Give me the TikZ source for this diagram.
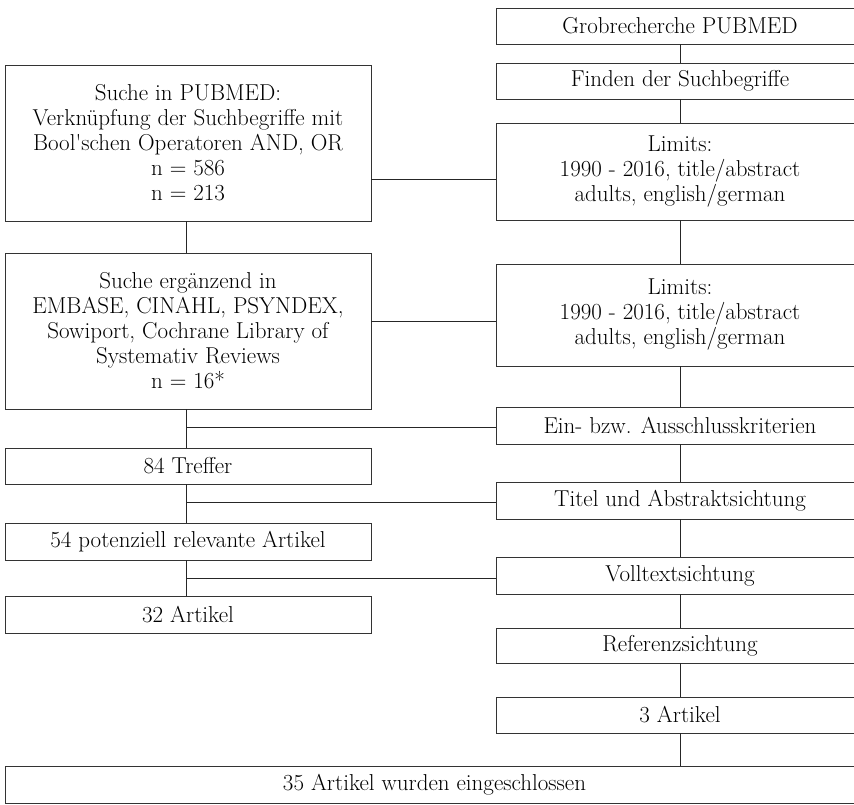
\documentclass[tikz,border=0pt]{standalone}
\usepackage{fontspec}
\begin{document}
\begin{tikzpicture}[x=1pt,y=-1pt,
  box/.style={draw=black!80, line width=0.9pt, inner sep=0pt, align=center,
    font=\fontsize{23}{25}\selectfont},
  conn/.style={draw=black!85, line width=0.9pt}]
\useasboundingbox (0,0) rectangle (854,804);
\clip (0,0) rectangle (854,804);
% right column (x 496..864, centre 680)
\node[box, minimum width=368pt, minimum height=36pt] (r1) at (680,26) {Grobrecherche PUBMED};
\node[box, minimum width=368pt, minimum height=36pt] (r2) at (680,81) {Finden der Suchbegriffe};
\node[box, minimum width=368pt, minimum height=97pt] (r3) at (680,171.5) {Limits:\\1990 - 2016, title/abstract\\adults, english/german};
\node[box, minimum width=368pt, minimum height=102pt] (r4) at (680,315) {Limits:\\1990 - 2016, title/abstract\\adults, english/german};
\node[box, minimum width=368pt, minimum height=37pt] (r5) at (680,425.5) {Ein- bzw. Ausschlusskriterien};
\node[box, minimum width=368pt, minimum height=37pt] (r6) at (680,500.5) {Titel und Abstraktsichtung};
\node[box, minimum width=368pt, minimum height=37pt] (r7) at (680,575.5) {Volltextsichtung};
\node[box, minimum width=368pt, minimum height=35pt] (r8) at (680,645.5) {Referenzsichtung};
\node[box, minimum width=368pt, minimum height=36pt] (r9) at (680,715) {3 Artikel};
% left column (x 5..371, centre 188)
\node[box, minimum width=366pt, minimum height=156pt] (l1) at (188,143) {Suche in PUBMED:\\Verknüpfung der Suchbegriffe mit\\Bool\textquotesingle schen Operatoren AND, OR\\n = 586\\n = 213};
\node[box, minimum width=366pt, minimum height=156pt] (l2) at (188,331) {Suche ergänzend in\\EMBASE, CINAHL, PSYNDEX,\\Sowiport, Cochrane Library of\\Systemativ Reviews\\n = 16*};
\node[box, minimum width=366pt, minimum height=36pt] (l3) at (188,466) {84 Treffer};
\node[box, minimum width=366pt, minimum height=37pt] (l4) at (188,541.5) {54 potenziell relevante Artikel};
\node[box, minimum width=366pt, minimum height=37pt] (l5) at (188,614.5) {32 Artikel};
% final
\node[box, minimum width=859pt, minimum height=37pt] (f) at (434.5,784.5) {35 Artikel wurden eingeschlossen};
% coordinates on the left trunk
\coordinate (j1) at (186,427);
\coordinate (j2) at (186,502);
\coordinate (j3) at (186,578);
% right trunk
\draw[conn] (r1.south) -- (r2.north);
\draw[conn] (r2.south) -- (r3.north);
\draw[conn] (r3.south) -- (r4.north);
\draw[conn] (r4.south) -- (r5.north);
\draw[conn] (r5.south) -- (r6.north);
\draw[conn] (r6.south) -- (r7.north);
\draw[conn] (r7.south) -- (r8.north);
\draw[conn] (r8.south) -- (r9.north);
\draw[conn] (r9.south) -- (r9.south |- f.north);
% left trunk
\draw[conn] (l1.south -| j1) -- (l2.north -| j1);
\draw[conn] (l2.south -| j1) -- (l3.north -| j1);
\draw[conn] (l3.south -| j1) -- (l4.north -| j1);
\draw[conn] (l4.south -| j1) -- (l5.north -| j1);
% cross links
\draw[conn] (l1.east |- 0,179) -- (r3.west |- 0,179);
\draw[conn] (l2.east |- 0,321) -- (r4.west |- 0,321);
\draw[conn] (j1) -- (j1 -| r5.west);
\draw[conn] (j2) -- (j2 -| r6.west);
\draw[conn] (j3) -- (j3 -| r7.west);
\end{tikzpicture}
\end{document}
